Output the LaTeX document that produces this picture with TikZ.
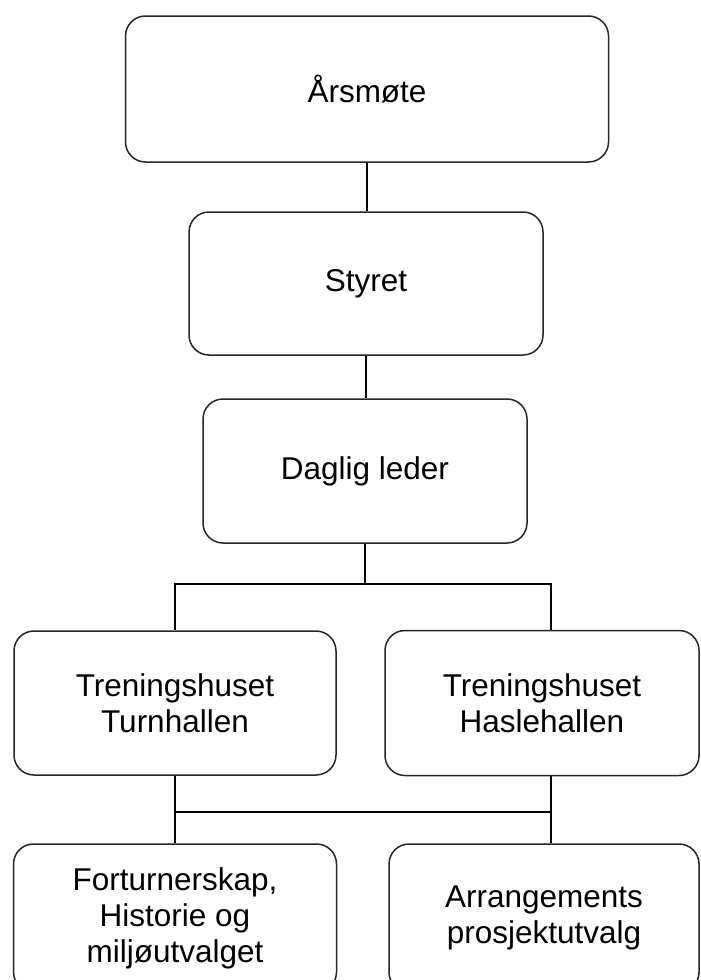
\documentclass[tikz,border=0pt]{standalone}
\usepackage{fontspec}
\setmainfont{Liberation Sans}
\begin{document}
\begin{tikzpicture}[x=1pt,y=-1pt,
  orgbox/.style={draw=black!85, line width=1.5pt, rounded corners=20pt, align=center,
    inner sep=0pt, font=\fontsize{31.5}{36}\selectfont},
  conn/.style={draw=black, line width=1.6pt}]
\useasboundingbox (0,0) rectangle (701,980);
\clip (0,0) rectangle (701,980);
\fill[white] (0,0) rectangle (701,980);
\node[orgbox, minimum width=483pt, minimum height=146pt] (b1) at (367,89) {Årsmøte};
\node[orgbox, minimum width=354pt, minimum height=143pt] (b2) at (366,283.5) {Styret};
\node[orgbox, minimum width=324pt, minimum height=144pt] (b3) at (365,471) {Daglig leder};
\node[orgbox, minimum width=322pt, minimum height=144pt] (b4) at (175,703) {Treningshuset\\Turnhallen};
\node[orgbox, minimum width=314pt, minimum height=145pt] (b5) at (542,703) {Treningshuset\\Haslehallen};
\node[orgbox, minimum width=323pt, minimum height=148pt] (b6) at (175,918) {Forturnerskap,\\Historie og\\miljøutvalget};
\node[orgbox, minimum width=310pt, minimum height=148pt] (b7) at (544,918) {Arrangements\\prosjektutvalg};
\coordinate (r1) at (551,584);
\coordinate (r2) at (551,812);
\draw[conn] (b1.south) -- (b1.south |- b2.north);
\draw[conn] (b2.south) -- (b2.south |- b3.north);
\draw[conn] (b3.south) -- (b3.south |- r1);
\draw[conn] (b4.north) |- (r1) -- (r1 |- b5.north);
\draw[conn] (b4.south) -- (b6.north);
\draw[conn] (b4.south |- r2) -- (r2);
\draw[conn] (r2 |- b5.south) -- (r2 |- b7.north);
\end{tikzpicture}
\end{document}
